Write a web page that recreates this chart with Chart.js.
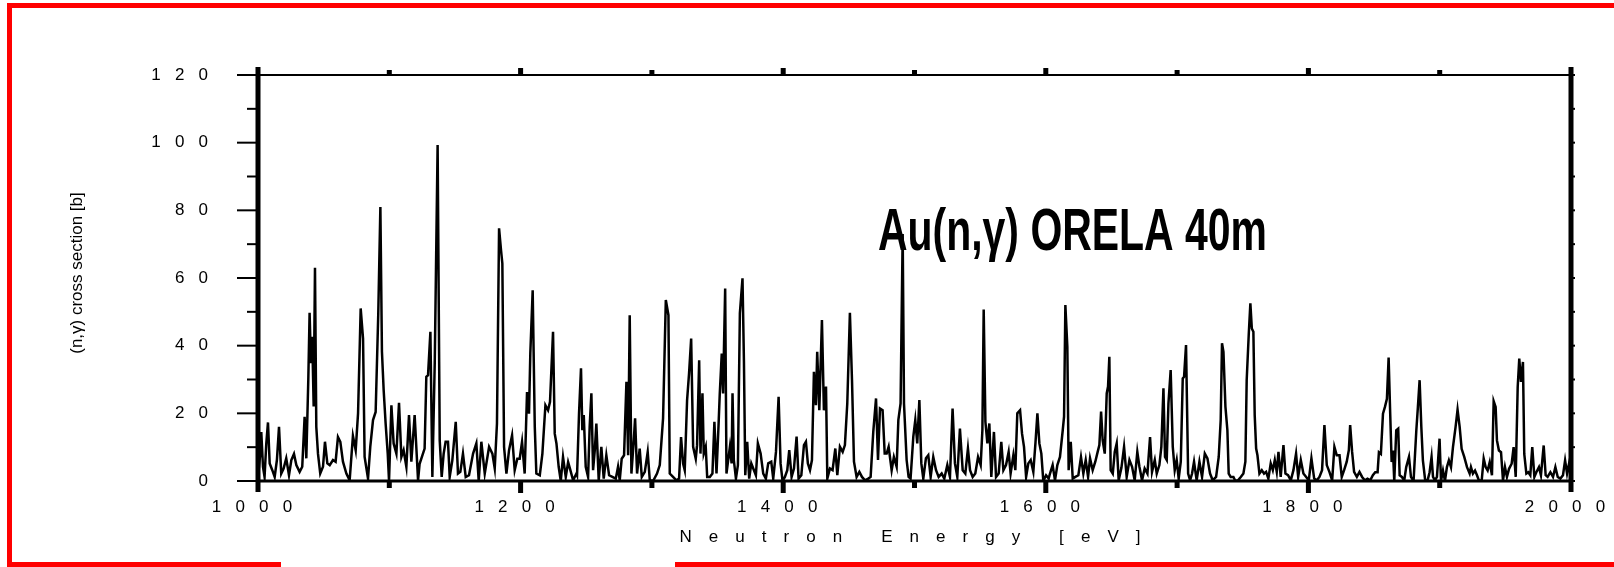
<!DOCTYPE html>
<html>
<head>
<meta charset="utf-8">
<title>Au(n,γ) ORELA 40m</title>
<script src="https://cdn.jsdelivr.net/npm/chart.js@4.4.1/dist/chart.umd.min.js"></script>
<style>
  html, body { margin: 0; padding: 0; background: #fff; }
  #wrap { width: 1614px; height: 567px; }
</style>
</head>
<body>
<div id="wrap"><canvas id="chart" width="1614" height="567"></canvas></div>
<script>
// neutron energy [eV] and (n,γ) cross section [b]
const energies = [
  1000.5, 1001.7, 1002.5, 1003.8, 1005.0, 1006.3, 1007.6, 1008.9, 1010.9, 1012.7, 1014.4, 1016.0, 1017.7, 1019.5,
  1021.5, 1023.6, 1025.4, 1027.4, 1029.2, 1031.7, 1033.7, 1035.5, 1036.8, 1038.3, 1039.3, 1040.3, 1041.3, 1042.4,
  1043.4, 1044.4, 1045.7, 1047.4, 1049.5, 1051.0, 1052.8, 1054.6, 1057.1, 1059.1, 1060.9, 1062.7, 1064.7, 1067.3,
  1069.8, 1072.3, 1074.4, 1076.2, 1078.2, 1080.0, 1081.2, 1083.8, 1085.5, 1087.6, 1089.6, 1091.6, 1093.2, 1094.4,
  1095.7, 1097.2, 1098.8, 1099.8, 1101.6, 1103.3, 1105.4, 1107.4, 1109.2, 1110.9, 1113.0, 1115.0, 1116.8, 1119.3,
  1121.9,
  1123.1, 1125.2, 1126.9, 1128.2, 1129.5, 1131.3, 1132.8, 1134.6, 1136.8, 1138.4, 1139.9, 1141.4, 1142.9, 1144.7,
  1146.0, 1148.0, 1150.6, 1152.3, 1154.1, 1156.1, 1158.2, 1160.7, 1163.8, 1166.3, 1168.1, 1170.1, 1172.7, 1176.0,
  1178.5, 1180.3, 1182.0, 1183.6, 1185.1, 1186.1, 1187.4, 1189.2, 1191.2, 1193.5, 1195.5, 1197.5, 1199.3, 1201.1,
  1203.1, 1204.9, 1206.4, 1207.4, 1209.2, 1210.8, 1212.0, 1214.6, 1216.6, 1218.9, 1220.9, 1222.4, 1224.7, 1226.0,
  1227.3, 1229.0, 1230.6, 1232.3, 1234.4, 1236.2, 1237.9, 1240.0, 1242.5,
  1243.0, 1244.5, 1246.0, 1247.0, 1248.1, 1249.6, 1251.4, 1252.6, 1253.9, 1255.2, 1256.5, 1257.7, 1259.5, 1261.5,
  1263.3, 1265.3, 1267.4, 1269.9, 1272.5, 1274.2, 1275.5, 1277.0, 1278.8, 1280.6, 1281.9, 1283.1, 1284.4, 1286.2,
  1287.2, 1288.7, 1290.7, 1292.3, 1294.6, 1296.8, 1298.4, 1300.9, 1303.9, 1306.0, 1308.5, 1310.6, 1312.6, 1313.6,
  1316.1, 1318.7, 1320.7, 1322.2, 1323.8, 1325.0, 1326.8, 1328.3, 1329.9, 1331.4, 1333.4, 1334.4, 1336.0, 1337.0,
  1338.5, 1339.5, 1341.0, 1342.1, 1344.1, 1346.1, 1347.6, 1349.2, 1350.7, 1351.7, 1353.2, 1354.2, 1355.8, 1356.8,
  1359.4, 1360.7, 1361.4, 1362.4, 1364.0, 1365.5, 1367.0, 1369.0, 1370.1, 1371.1, 1372.6, 1374.1, 1375.7, 1377.2,
  1379.2, 1380.7, 1382.8, 1384.8, 1386.8, 1388.6, 1390.9, 1392.4, 1394.5, 1396.5, 1398.0, 1399.5, 1401.3, 1403.1,
  1404.6, 1406.4, 1408.2, 1410.2, 1411.7, 1413.8, 1415.8, 1417.3, 1418.8, 1420.4, 1421.9, 1423.4, 1424.9, 1425.9,
  1427.5, 1429.5, 1431.0, 1432.6, 1433.6, 1435.6, 1437.6, 1439.7, 1441.2, 1443.2, 1445.3, 1447.0, 1448.8, 1450.8,
  1452.4, 1453.9, 1455.9, 1458.0, 1460.0, 1462.3, 1464.8, 1466.6, 1468.6, 1470.7, 1472.2, 1473.7, 1475.7, 1477.3,
  1478.8, 1480.3,
  1482.6, 1484.3, 1486.4, 1487.7, 1489.4, 1491.0, 1492.0, 1494.0, 1495.5, 1497.0, 1499.1, 1500.6, 1502.1, 1503.7,
  1505.2, 1506.7, 1508.7, 1510.5, 1512.3, 1514.3, 1516.4, 1518.4, 1520.7, 1522.7, 1525.0, 1527.0, 1529.0, 1530.8,
  1532.6, 1534.6, 1536.7, 1538.7, 1540.7, 1542.3, 1544.3, 1546.3, 1548.4, 1550.4, 1551.7, 1552.7, 1554.0, 1555.5,
  1557.0, 1558.5, 1560.5, 1562.1, 1564.1, 1566.1, 1567.7, 1569.7, 1571.7, 1573.2, 1575.3, 1576.8, 1578.3, 1580.4,
  1581.9, 1583.4, 1585.0, 1586.7, 1588.5, 1590.5, 1592.1, 1593.6, 1595.1, 1596.6, 1598.1, 1600.2, 1602.2,
  1603.2, 1605.2, 1607.0, 1608.8, 1610.8, 1612.9, 1613.9, 1614.9, 1616.4, 1617.4, 1619.0, 1620.5, 1622.5, 1624.8,
  1626.8, 1628.6, 1630.4, 1632.2, 1633.7, 1635.7, 1637.7, 1639.5, 1640.8, 1642.1, 1643.3, 1644.9, 1646.4, 1647.4,
  1648.4, 1649.4, 1651.0, 1652.5, 1654.0, 1655.5, 1657.6, 1659.6, 1661.6, 1663.7, 1665.7, 1667.7, 1669.7, 1671.3,
  1673.3, 1675.3, 1677.4, 1679.4, 1680.9, 1683.0, 1684.5, 1686.5, 1688.0, 1689.6, 1690.8, 1692.1, 1693.4, 1695.1,
  1696.7, 1698.2, 1699.7, 1701.2, 1702.8, 1704.3, 1705.3, 1706.8, 1708.4, 1709.9, 1711.4, 1712.9, 1714.9, 1717.0,
  1719.0, 1721.1, 1723.1,
  1725.1, 1727.1, 1729.7, 1731.7, 1733.2, 1734.2, 1735.3, 1736.8, 1738.3, 1739.3, 1740.8, 1742.9, 1744.4, 1746.4,
  1748.5, 1750.5, 1752.0, 1753.0, 1754.6, 1755.8, 1756.9, 1758.1, 1759.1, 1760.2, 1761.2, 1762.7, 1764.5, 1766.2,
  1767.8, 1769.5, 1771.3, 1772.9, 1774.4, 1775.9, 1777.2, 1778.9, 1781.0, 1782.5, 1784.5, 1786.6, 1788.6, 1790.6,
  1792.2, 1794.2, 1796.2, 1798.3, 1800.3, 1802.3, 1804.4, 1806.4, 1808.4, 1810.4, 1812.2, 1814.0, 1816.0, 1818.1,
  1819.8, 1821.6, 1823.7, 1825.4, 1827.2, 1829.2, 1830.8, 1831.8, 1833.3, 1834.8, 1836.9, 1838.9, 1840.9, 1843.0,
  1845.0,
  1847.1, 1849.1, 1850.9, 1852.7, 1853.7, 1855.2, 1856.8, 1858.3, 1859.8, 1861.1, 1862.3, 1863.4, 1864.4, 1865.4,
  1866.9, 1868.4, 1869.5, 1871.2, 1873.0, 1874.5, 1876.6, 1878.1, 1880.1, 1882.2, 1883.4, 1884.7, 1886.0, 1887.2,
  1889.0, 1890.8, 1892.3, 1893.8, 1894.9, 1896.4, 1897.9, 1899.9, 1901.0, 1902.5, 1904.0, 1905.5, 1907.0, 1908.6,
  1910.1, 1912.1, 1913.6, 1915.2, 1916.7, 1918.7, 1920.8, 1922.8, 1923.8, 1925.3, 1926.9, 1928.4, 1930.0, 1932.0,
  1933.5, 1935.0, 1936.5, 1938.1, 1939.8, 1941.1, 1942.6, 1943.6, 1945.1, 1946.7, 1948.2, 1949.7, 1951.2, 1952.8,
  1954.8, 1956.3, 1957.9, 1959.4, 1960.6, 1961.9, 1963.4, 1964.4, 1966.0, 1967.5, 1969.0, 1970.5, 1972.1, 1973.6,
  1975.6, 1977.1, 1979.2, 1980.7, 1982.2, 1984.3, 1986.3, 1988.1, 1989.9, 1991.9, 1993.9, 1995.5, 1997.0, 1998.5,
  2000.0
];

const crossSection = [
  3.0, 8.1, 14.5, 4.2, 1.2, 11.0, 17.3, 5.2, 3.2, 1.2, 6.2, 16.0, 2.2, 3.7,
  6.7, 1.7, 6.2, 8.0, 4.7, 2.7, 4.2, 19.0, 6.7, 29.8, 49.7, 34.8, 42.6, 22.0,
  63.0, 16.0, 8.0, 2.2, 4.2, 11.6, 5.2, 4.7, 6.2, 5.7, 13.0, 11.6, 5.7, 2.2,
  0.2, 13.3, 9.1, 20.0, 51.0, 42.1, 7.1, 0.7, 10.1, 18.0, 20.4, 49.5, 81.0, 38.2,
  26.9, 17.0, 8.1, 0.0, 22.4, 11.1, 8.1, 23.1, 7.1, 9.1, 4.2, 19.5, 5.7, 19.5,
  0.2,
  5.1, 7.6, 9.6, 30.8, 31.3, 44.1, 1.2, 34.7, 99.3, 12.0, 1.2, 8.1, 11.6, 11.6,
  1.2, 6.1, 17.5, 2.2, 2.7, 8.1, 1.2, 1.7, 8.1, 11.1, 0.0, 11.6, 2.2, 10.1,
  8.1, 3.7, 17.0, 74.7, 68.2, 64.3, 10.1, 2.2, 9.1, 13.5, 3.2, 6.6, 6.6, 11.6,
  2.2, 26.3, 19.9, 37.7, 56.4, 16.0, 2.2, 1.7, 8.1, 22.4, 20.9, 23.4, 44.1, 14.0,
  11.1, 4.2, 0.0, 7.1, 1.2, 5.6, 3.2, 0.2, 2.2,
  1.7, 20.0, 33.3, 15.0, 19.5, 4.2, 1.2, 16.0, 25.9, 3.2, 9.1, 17.0, 0.2, 10.1,
  0.7, 7.6, 1.7, 1.2, 0.7, 4.2, 0.2, 6.6, 7.6, 29.3, 7.6, 49.0, 2.2, 12.1,
  18.5, 2.2, 9.6, 1.2, 2.7, 8.6, 0.2, 0.0, 2.2, 4.7, 18.5, 53.5, 49.0, 2.2,
  1.2, 0.2, 0.7, 13.0, 5.1, 3.2, 23.9, 31.8, 42.1, 10.1, 6.6, 10.6, 35.7, 8.1,
  25.9, 8.1, 10.1, 1.2, 1.2, 2.2, 17.5, 2.2, 16.0, 25.9, 37.7, 25.9, 56.9, 2.2,
  10.1, 5.2, 25.9, 6.2, 0.7, 4.7, 49.6, 59.9, 35.3, 1.7, 11.6, 0.7, 5.2, 3.7,
  1.7, 11.1, 8.1, 2.2, 0.7, 5.2, 5.7, 0.7, 8.6, 24.9, 5.2, 0.0, 1.2, 3.2,
  9.1, 1.2, 3.7, 13.1, 0.7, 1.7, 10.6, 11.6, 5.2, 3.2, 6.2, 32.3, 22.4, 38.2,
  20.9, 47.6, 20.9, 27.9, 0.7, 3.7, 3.2, 9.6, 1.7, 10.1, 8.6, 10.6, 22.9, 49.7,
  29.8, 5.7, 1.2, 2.7, 1.2, 0.2, 0.7, 1.2, 14.5, 24.4, 6.2, 21.4, 20.9, 8.1,
  8.1, 10.1,
  3.2, 7.1, 4.2, 18.0, 22.9, 73.0, 22.9, 6.2, 1.2, 0.7, 13.1, 18.0, 11.1, 23.9,
  5.2, 0.7, 6.7, 7.6, 1.2, 7.1, 3.2, 1.2, 2.2, 0.7, 4.7, 1.2, 21.4, 5.2,
  1.2, 15.5, 3.2, 2.2, 9.6, 3.2, 1.2, 2.2, 7.1, 4.7, 15.0, 50.7, 17.5, 11.1,
  17.0, 1.2, 14.5, 1.2, 2.2, 11.6, 3.2, 4.7, 8.6, 2.2, 7.6, 3.2, 20.0, 20.9,
  14.0, 10.1, 1.2, 5.2, 6.2, 2.7, 11.1, 20.0, 11.1, 8.1, 0.0, 1.7, 0.7,
  2.2, 4.7, 0.2, 4.7, 7.1, 15.0, 19.0, 52.0, 39.7, 3.2, 11.6, 0.7, 1.2, 1.7,
  7.1, 2.2, 6.2, 1.2, 6.7, 3.2, 5.7, 8.6, 10.6, 20.5, 12.1, 8.1, 25.9, 27.9,
  36.7, 3.2, 2.2, 8.6, 11.1, 0.2, 3.9, 10.1, 1.2, 6.2, 4.2, 0.2, 8.6, 4.2,
  0.2, 3.7, 2.2, 13.0, 2.7, 6.2, 2.2, 4.7, 10.1, 27.4, 7.1, 6.2, 22.9, 32.8,
  10.1, 3.2, 6.2, 0.7, 5.7, 30.3, 30.8, 40.2, 2.2, 0.2, 2.2, 5.7, 0.2, 5.7,
  1.2, 8.1, 6.7,
  2.2, 0.2, 1.2, 7.1, 18.0, 40.7, 38.2, 22.0, 15.0, 2.2, 1.2, 1.2, 0.0, 0.2,
  1.2, 2.2, 5.7, 29.8, 43.6, 52.5, 45.1, 44.1, 19.5, 9.6, 7.6, 2.2, 3.2, 2.2,
  2.7, 0.7, 5.2, 3.2, 6.2, 2.7, 8.6, 1.2, 10.6, 2.2, 1.7, 0.2, 3.2, 8.1,
  1.2, 6.2, 2.2, 1.2, 0.2, 6.7, 0.7, 0.2, 1.2, 3.2, 16.5, 4.7, 2.7, 0.2,
  10.1, 7.6, 7.6, 1.2, 3.2, 5.7, 9.1, 16.5, 8.6, 2.7, 1.2, 2.7, 1.2, 0.2,
  0.7,
  0.2, 1.7, 2.6, 2.6, 8.5, 8.0, 19.9, 21.9, 24.3, 36.5, 19.9, 5.6, 9.0, 0.0,
  15.0, 15.5, 1.7, 1.2, 0.2, 4.1, 7.1, 1.2, 0.0, 15.0, 21.9, 29.8, 16.0, 6.1,
  0.0, 0.2, 2.6, 7.1, 1.2, 0.2, 1.2, 12.5, 0.0, 3.1, 0.0, 4.1, 6.1, 4.1,
  10.0, 16.0, 21.1, 16.0, 9.5, 7.1, 4.1, 2.2, 4.1, 2.2, 3.1, 1.7, 0.0, 0.2,
  6.6, 4.1, 3.1, 5.6, 1.7, 23.6, 21.9, 12.0, 9.0, 8.5, 0.2, 4.1, 1.2, 3.6,
  5.1, 10.0, 1.2, 27.8, 36.2, 29.3, 35.2, 8.0, 2.2, 2.6, 1.7, 10.0, 1.2, 2.6,
  4.1, 1.7, 10.5, 1.7, 1.2, 2.6, 1.2, 4.1, 1.2, 0.7, 1.7, 6.1, 2.2, 5.1,
  0.2
];

// axis ticks
const xTickValues = [1000, 1200, 1400, 1600, 1800, 2000];
const yTickValues = [0, 20, 40, 60, 80, 100, 120];

const FONT = "'Liberation Sans', Arial, sans-serif";

// tick labels are letter-spaced in the original ("1 2 0")
const spaced = v => String(v).split('').join('   ');

function line(c, x1, y1, x2, y2) {
  c.beginPath();
  c.moveTo(x1, y1);
  c.lineTo(x2, y2);
  c.stroke();
}

// frame, tick marks, titles and the red border
const decor = {
  id: 'decor',
  beforeDraw(chart) {
    const c = chart.ctx;
    c.save();
    c.fillStyle = '#fff';
    c.fillRect(0, 0, chart.width, chart.height);
    c.restore();
  },
  afterDatasetsDraw(chart) {
    const c = chart.ctx;
    const xs = chart.scales.x;
    const ys = chart.scales.y;
    const L = xs.getPixelForValue(1000);
    const R = xs.getPixelForValue(2000);
    const T = ys.getPixelForValue(120);
    const B = ys.getPixelForValue(0);

    c.save();
    c.strokeStyle = '#000';
    c.fillStyle = '#000';

    // y ticks: major every 20, minor every 10
    c.lineWidth = 2;
    for (let v = 0; v <= 120; v += 10) {
      const py = ys.getPixelForValue(v);
      const len = v % 20 === 0 ? 21 : 11;
      line(c, L - len, py, L, py);
      line(c, R, py, R + 4, py);
    }

    // top and bottom axis lines
    c.lineWidth = 2;
    line(c, L, T, R, T);
    c.lineWidth = 3;
    line(c, L, B, R, B);

    // x tick marks (small blocks above the top and below the bottom line)
    for (let v = 1100; v < 2000; v += 100) {
      const px = xs.getPixelForValue(v);
      const major = (v - 1000) % 200 === 0;
      c.fillRect(px - 2.5, B, 5, major ? 12 : 7);
      c.fillRect(px - 2.5, T - (major ? 7 : 5), 5, major ? 7 : 5);
    }

    // thick left and right axes
    c.lineWidth = 5;
    line(c, L, T - 8, L, B + 11);
    line(c, R, T - 8, R, B + 11);

    // y axis title
    c.save();
    c.translate(77, 273);
    c.rotate(-Math.PI / 2);
    c.font = '17px ' + FONT;
    c.textAlign = 'center';
    c.textBaseline = 'middle';
    c.fillText('(n,γ) cross section [b]', 0, 0);
    c.restore();

    // x axis title, spread out letter by letter
    const xTitle = 'Neutron Energy [eV]';
    c.font = '17px ' + FONT;
    c.textAlign = 'left';
    c.textBaseline = 'middle';
    const chars = xTitle.split('');
    const natural = chars.reduce((s, ch) => s + c.measureText(ch).width, 0);
    const totalW = 461;
    const extra = (totalW - natural) / (chars.length - 1);
    let cx = 910 - totalW / 2;
    chars.forEach(ch => {
      c.fillText(ch, cx, 537);
      cx += c.measureText(ch).width + extra;
    });

    // plot label
    c.save();
    c.font = 'bold 60px ' + FONT;
    c.textAlign = 'left';
    c.textBaseline = 'alphabetic';
    const label = 'Au(n,γ) ORELA 40m';
    const lw = c.measureText(label).width;
    c.translate(878, 250);
    c.scale(389 / lw, 1);
    c.fillText(label, 0, 0);
    c.restore();

    // red border, open at the bottom
    c.fillStyle = '#ff0000';
    c.fillRect(7, 3, chart.width - 7, 5);
    c.fillRect(7, 3, 5, 564);
    c.fillRect(7, 562, 274, 5);
    c.fillRect(675, 562, chart.width - 675, 5);

    c.restore();
  }
};

const points = energies.map((e, i) => ({ x: e, y: crossSection[i] }));

new Chart(document.getElementById('chart'), {
  type: 'line',
  data: {
    datasets: [{
      data: points,
      borderColor: '#000',
      borderWidth: 2.5,
      pointRadius: 0,
      tension: 0,
      fill: false,
    }],
  },
  options: {
    responsive: false,
    animation: false,
    events: [],
    layout: { padding: { left: 0, right: 43, top: 75, bottom: 0 } },
    plugins: {
      legend: { display: false },
      tooltip: { enabled: false },
    },
    scales: {
      x: {
        type: 'linear',
        min: 1000,
        max: 2000,
        afterFit: s => { s.height = 86; s.paddingLeft = 0; s.paddingRight = 0; },
        afterBuildTicks: s => { s.ticks = xTickValues.map(v => ({ value: v })); },
        ticks: {
          callback: v => spaced(v),
          font: { family: FONT, size: 17 },
          color: '#000',
          padding: 16,
          labelOffset: -6,
          maxRotation: 0,
          autoSkip: false,
        },
        grid: { display: false, drawTicks: false },
        border: { display: false },
      },
      y: {
        min: 0,
        max: 120,
        afterFit: s => { s.width = 258; s.paddingTop = 0; s.paddingBottom = 0; },
        afterBuildTicks: s => { s.ticks = yTickValues.map(v => ({ value: v })); },
        ticks: {
          callback: v => spaced(v),
          font: { family: FONT, size: 17 },
          color: '#000',
          padding: 50,
        },
        grid: { display: false, drawTicks: false },
        border: { display: false },
      },
    },
  },
  plugins: [decor],
});
</script>
</body>
</html>
